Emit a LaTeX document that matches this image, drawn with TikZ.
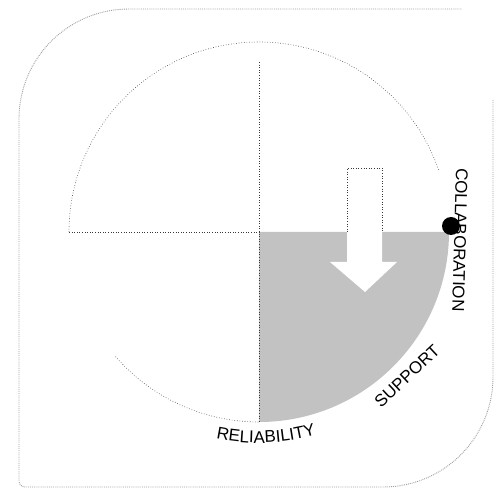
\documentclass[tikz,border=0pt]{standalone}
\usepackage{fontspec}
\setsansfont{Liberation Sans}
\usetikzlibrary{decorations.text}
\tikzset{
  frameline/.style={densely dotted, gray!75, line width=0.9pt},
  guide/.style={dotted, gray!45!black, line width=0.6pt},
  quarter/.style={fill=gray!48, draw=none},
  arrowbody/.style={fill=white, draw=none},
  hubdot/.style={circle, fill=black, minimum size=18pt, inner sep=0pt},
  labeltxt/.style={font=\lblfont, inner sep=0pt},
}
\newcommand{\lblfont}{\sffamily\fontsize{17}{17}\selectfont}
\newcommand{\arclabel}[4]{% start angle, end angle, radius, text
  \path[decorate, decoration={text along path, text align=center,
    text={|\lblfont|#4}}] (ctr) ++(#1:#3) arc[start angle=#1, end angle=#2, radius=#3];}

\begin{document}
\begin{tikzpicture}[x=1pt, y=1pt]
  \useasboundingbox (0,0) rectangle (499,496);

  %% ---- outer frame (open at top right) ----
  \draw[frameline] (493,396) -- (493,119)
    arc[start angle=0, end angle=-90, radius=110] -- (25,9)
    arc[start angle=-90, end angle=-180, radius=6] -- (19,377)
    arc[start angle=180, end angle=90, radius=110] -- (462,487);

  %% ---- circle and quadrants ----
  \coordinate (ctr)  at (259,264);
  \coordinate (lft)  at (69,264);
  \coordinate (vtop) at (259,434);
  \coordinate (vbot) at (259,74);

  \fill[quarter] (ctr) -- ++(0:190) arc[start angle=0, end angle=-90, radius=190] -- cycle;

  % arrow pointing down into the shaded quadrant
  \fill[arrowbody] (347,328) -- (382,328) -- (382,234) -- (397,234)
    -- (365,204) -- (330,234) -- (347,234) -- cycle;
  \draw[guide] (347,264) -- (347,328) -- (382,328) -- (382,264);

  \draw[guide] (ctr) ++(180:190) arc[start angle=180, end angle=19, radius=190];
  \draw[guide] (ctr) ++(221:190) arc[start angle=221, end angle=270, radius=190];
  \draw[guide] (lft) -- (ctr);
  \draw[guide] (vtop) -- (vbot);

  \node[hubdot] (hub) at (451,270) {};

  %% ---- labels ----
  \node[labeltxt, rotate=-91.5] (collab) at (460,256) {COLLABORATION};
  \node[labeltxt, rotate=43] (support) at (407,120) {SUPPORT};
  \arclabel{-110}{-66}{211}{RELIABILITY}

\end{tikzpicture}
\end{document}
